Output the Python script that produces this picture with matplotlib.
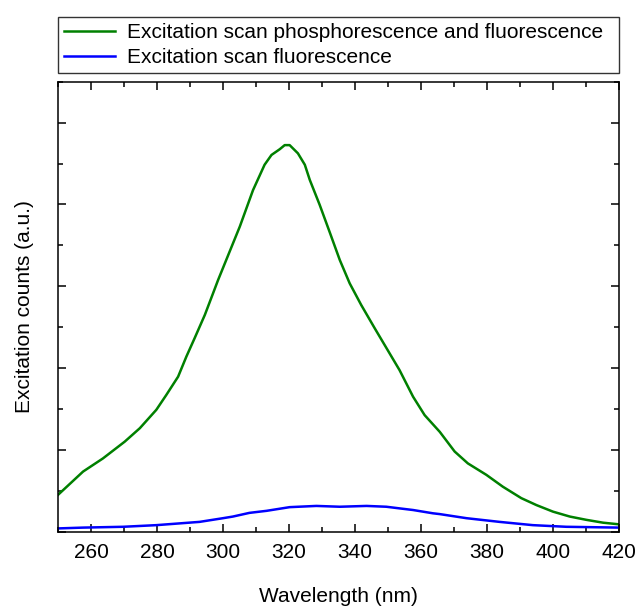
import matplotlib
matplotlib.use('Agg')
import matplotlib.pyplot as plt
from matplotlib.ticker import MultipleLocator

plt.rcParams['font.family'] = ['Liberation Sans', 'DejaVu Sans']

# phosphorescence + fluorescence excitation scan
wl_total = [250, 257.6, 263.6, 270.2, 274.8, 279.8, 282.8, 286.4, 288.9, 291.4,
            294.5, 297, 298.5, 305.1, 309.1, 312.6, 314.7, 317.2, 318.7, 320.2,
            322.7, 324.8, 326.3, 329.3, 332.3, 335.4, 338.4, 341.9, 346, 353.5,
            357.6, 361.1, 365.7, 370.2, 374.2, 379.8, 384.8, 390.4, 395, 400,
            405.1, 410.1, 415.2, 420]
counts_total = [0.90, 1.47, 1.79, 2.20, 2.53, 2.98, 3.34, 3.79, 4.28, 4.73,
                5.30, 5.83, 6.15, 7.46, 8.35, 8.97, 9.21, 9.35, 9.45, 9.45,
                9.25, 8.97, 8.60, 7.99, 7.33, 6.64, 6.07, 5.54, 4.97, 3.95,
                3.30, 2.85, 2.44, 1.96, 1.67, 1.39, 1.10, 0.82, 0.65, 0.49,
                0.37, 0.29, 0.22, 0.18]

# fluorescence only
wl_fluo = [250, 257.6, 269.7, 279.8, 292.9, 300, 303, 308, 313.2, 320.2,
           328.3, 335.4, 343.5, 349.5, 353.5, 357.6, 363.6, 365.7, 373.8,
           383.8, 393.9, 404, 420]
counts_fluo = [0.08, 0.10, 0.12, 0.16, 0.24, 0.33, 0.37, 0.46, 0.51, 0.60,
               0.63, 0.61, 0.63, 0.61, 0.57, 0.53, 0.45, 0.43, 0.33,
               0.24, 0.16, 0.12, 0.10]

fig = plt.figure(figsize=(6.38, 6.08), dpi=100)
ax = fig.add_axes([0.0909, 0.1255, 0.8793, 0.7401])

ax.plot(wl_total, counts_total, color='#008000', lw=1.8,
        label='Excitation scan phosphorescence and fluorescence')
ax.plot(wl_fluo, counts_fluo, color='#0000ff', lw=1.8,
        label='Excitation scan fluorescence')

ax.set_xlim(250, 420)
ax.set_ylim(0, 11)
ax.xaxis.set_major_locator(MultipleLocator(20))
ax.xaxis.set_minor_locator(MultipleLocator(10))
ax.yaxis.set_major_locator(MultipleLocator(2))
ax.yaxis.set_minor_locator(MultipleLocator(1))
ax.tick_params(which='both', direction='in', top=True, right=True, width=1.1)
ax.tick_params(which='major', length=6)
ax.tick_params(which='minor', length=3.5)
ax.tick_params(axis='x', labelsize=15, pad=8)
ax.tick_params(axis='y', labelleft=False)
for s in ax.spines.values():
    s.set_linewidth(1.1)

ax.set_xlabel('Wavelength (nm)', fontsize=15, labelpad=18)
ax.set_ylabel('Excitation counts (a.u.)', fontsize=15, labelpad=14)

leg = ax.legend(loc='lower left', bbox_to_anchor=(0.0909, 0.8794, 0.8793, 0.0947),
                bbox_transform=fig.transFigure, mode='expand', borderaxespad=0,
                fontsize=15, fancybox=False, edgecolor='black',
                handlelength=2.45, handletextpad=0.58, labelspacing=0.3,
                borderpad=0.3)
leg.get_frame().set_linewidth(1.0)

plt.savefig('out.png', dpi=100)
